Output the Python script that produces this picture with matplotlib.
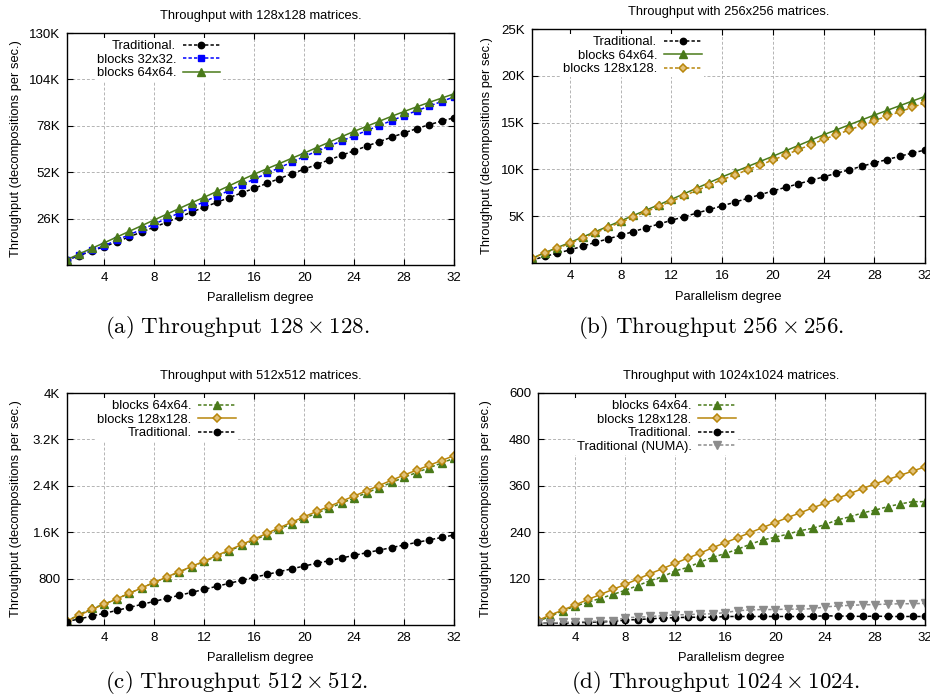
import numpy as np
import matplotlib
matplotlib.use("Agg")
import matplotlib.pyplot as plt
from matplotlib.ticker import FuncFormatter

plt.rcParams["font.family"] = ["Liberation Sans", "DejaVu Sans"]
plt.rcParams["mathtext.fontset"] = "cm"

# parallelism degree 1..32
X = list(range(1, 33))

# (a) 128x128, thousands of decompositions per second
A_TRAD = [2.8, 5.3, 7.9, 10.3, 13.0, 15.8, 18.6, 21.2, 24.0, 26.9, 29.7, 32.4, 35.1, 37.8, 40.4, 43.0,
          45.7, 48.4, 51.1, 53.7, 56.3, 58.9, 61.5, 64.0, 66.6, 69.1, 71.6, 74.0, 76.4, 78.6, 80.6, 82.5]
A_B32 = [2.8, 5.6, 8.2, 10.8, 14.0, 17.0, 20.0, 23.0, 26.1, 29.2, 32.3, 35.5, 38.6, 41.8, 45.0, 48.1,
         51.3, 54.5, 57.6, 60.8, 63.7, 66.6, 69.5, 72.4, 75.3, 78.1, 80.9, 83.7, 86.4, 89.0, 91.6, 94.2]
A_B64 = [3.0, 6.3, 9.4, 12.5, 15.7, 18.9, 22.1, 25.3, 28.5, 31.7, 34.9, 38.0, 41.2, 44.4, 47.7, 50.9,
         53.9, 56.8, 59.8, 62.7, 65.8, 68.8, 71.9, 74.9, 77.7, 80.5, 83.3, 86.0, 88.6, 91.1, 93.5, 95.9]

# (b) 256x256, thousands
B_TRAD = [0.30, 0.70, 1.05, 1.40, 1.80, 2.20, 2.58, 2.96, 3.36, 3.76, 4.16, 4.56, 4.95, 5.33, 5.72, 6.10,
          6.50, 6.90, 7.30, 7.70, 8.08, 8.45, 8.83, 9.20, 9.58, 9.95, 10.33, 10.70, 11.05, 11.40, 11.75, 12.07]
B_B64 = [0.50, 1.10, 1.65, 2.20, 2.78, 3.35, 3.92, 4.50, 5.08, 5.65, 6.22, 6.80, 7.40, 8.00, 8.60, 9.20,
         9.75, 10.30, 10.85, 11.40, 11.98, 12.55, 13.12, 13.70, 14.22, 14.75, 15.28, 15.80, 16.30, 16.80, 17.30, 17.80]
B_B128 = [0.50, 1.05, 1.58, 2.10, 2.66, 3.22, 3.79, 4.35, 4.91, 5.48, 6.04, 6.60, 7.18, 7.75, 8.33, 8.90,
          9.42, 9.95, 10.48, 11.00, 11.55, 12.10, 12.65, 13.20, 13.70, 14.20, 14.70, 15.20, 15.68, 16.15, 16.63, 17.10]

# (c) 512x512
C_B64 = [70, 180, 285, 360, 454, 547, 642, 736, 826, 915, 1005, 1095, 1187, 1280, 1372, 1465,
         1559, 1653, 1746, 1840, 1927, 2015, 2102, 2190, 2279, 2368, 2457, 2546, 2628, 2710, 2792, 2874]
C_B128 = [70, 170, 270, 357, 452, 547, 641, 736, 828, 920, 1011, 1103, 1198, 1293, 1388, 1483,
          1579, 1676, 1772, 1868, 1957, 2046, 2135, 2224, 2315, 2405, 2496, 2586, 2669, 2752, 2836, 2919]
C_TRAD = [60, 105, 155, 201, 252, 304, 356, 408, 460, 512, 563, 615, 667, 719, 771, 822,
          871, 920, 968, 1017, 1063, 1109, 1155, 1201, 1246, 1290, 1335, 1379, 1423, 1466, 1509, 1552]

# (d) 1024x1024
D_B64 = [9, 23, 37, 49, 59, 69, 79, 90, 102, 115, 125, 140, 149, 163, 175, 185,
         196, 209, 220, 227, 235, 244, 250, 260, 272, 280, 290, 297, 306, 313, 319, 319]
D_B128 = [12, 26, 39, 52, 66, 79, 92, 105, 119, 133, 146, 160, 173, 186, 200, 213,
          226, 239, 252, 265, 278, 290, 303, 315, 328, 340, 353, 365, 376, 387, 398, 409]
D_TRAD = [5, 5, 5, 6, 7, 8, 9, 13, 14, 16, 18, 19, 20, 20, 20, 22,
          22, 22, 22, 22, 22, 22, 22, 24, 23, 23, 22, 23, 22, 22, 22, 22]
D_NUMA = [5, 5, 7, 8, 9, 10, 11, 19, 20, 22, 24, 26, 27, 28, 29, 32,
          37, 39, 40, 40, 41, 41, 42, 47, 49, 51, 52, 53, 54, 55, 55, 56]

GREEN = "#4a7a1a"
GOLD = "#b8860b"
GOLD_FILL = "#e3c27a"
BLUE = "#0000ff"
GRAY = "#8c8c8c"
DASH = (0, (2.2, 1.4))
LW = 1.1

TRAD_STYLE = dict(color="black", ls=DASH, marker="o", ms=4.6, mfc="black", mec="black")
B32_STYLE = dict(color=BLUE, ls=DASH, marker="s", ms=4.4, mfc=BLUE, mec=BLUE)
B64_SOLID = dict(color=GREEN, ls="-", marker="^", ms=5.2, mfc=GREEN, mec=GREEN)
B64_DASH = dict(color=GREEN, ls=DASH, marker="^", ms=5.2, mfc=GREEN, mec=GREEN)
B128_DASH = dict(color=GOLD, ls=DASH, marker="D", ms=3.8, mfc=GOLD_FILL, mec=GOLD, mew=1.1)
B128_SOLID = dict(color=GOLD, ls="-", marker="D", ms=3.8, mfc=GOLD_FILL, mec=GOLD, mew=1.1)
NUMA_STYLE = dict(color=GRAY, ls=DASH, marker="v", ms=5.2, mfc=GRAY, mec=GRAY)

FS = 9.3

W, H = 930, 698
fig = plt.figure(figsize=(W / 100, H / 100), dpi=100)


def px_axes(left, top, right, bottom):
    return fig.add_axes([left / W, 1 - bottom / H, (right - left) / W, (bottom - top) / H])


def k_fmt(v, pos):
    if v >= 1000:
        s = f"{v / 1000:.1f}".rstrip("0").rstrip(".")
        return s + "K"
    return f"{v:g}"


def setup(ax, title, ymax, yticks, fmt, ylab_x, leg_x):
    ax.set_xlim(1, 32)
    ax.set_ylim(0, ymax)
    ax.set_xticks([4, 8, 12, 16, 20, 24, 28, 32])
    ax.set_yticks(yticks)
    ax.yaxis.set_major_formatter(FuncFormatter(fmt))
    ax.grid(True, color="#b4b4b4", ls=(0, (3, 2)), lw=0.7)
    ax.set_axisbelow(True)
    ax.tick_params(direction="in", length=4, width=0.8, top=True, right=True,
                   labelsize=9.5, pad=5)
    for sp in ax.spines.values():
        sp.set_linewidth(1.0)
    ax.set_title(title, fontsize=FS, pad=10)
    ax.set_xlabel("Parallelism degree", fontsize=FS)
    ax.set_ylabel("Throughput (decompositions per sec.)", fontsize=FS)
    ax.yaxis.set_label_coords(ylab_x, 0.5)
    ax.xaxis.set_label_coords(0.5, -0.118)
    leg = ax.legend(loc="upper right", bbox_to_anchor=(leg_x, 1.0), markerfirst=False,
                    fontsize=9.4, frameon=True, framealpha=1, edgecolor="none",
                    fancybox=False, borderpad=0.15, borderaxespad=0.4,
                    handlelength=2.9, handletextpad=0.5, labelspacing=0.1)
    leg.get_frame().set_linewidth(0)


# (a)
ax = px_axes(67, 33, 454, 265)
ax.plot(X, np.array(A_TRAD) * 1000, label="Traditional.", lw=LW, **TRAD_STYLE)
ax.plot(X, np.array(A_B32) * 1000, label="blocks 32x32.", lw=LW, **B32_STYLE)
ax.plot(X, np.array(A_B64) * 1000, label="blocks 64x64.", lw=LW, **B64_SOLID)
setup(ax, "Throughput with 128x128 matrices.", 130000,
      [26000, 52000, 78000, 104000, 130000], k_fmt, -0.116, 0.415)

# (b)
ax = px_axes(532, 29, 925, 263)
ax.plot(X, np.array(B_TRAD) * 1000, label="Traditional.", lw=LW, **TRAD_STYLE)
ax.plot(X, np.array(B_B64) * 1000, label="blocks 64x64.", lw=LW, **B64_SOLID)
ax.plot(X, np.array(B_B128) * 1000, label="blocks 128x128.", lw=LW, **B128_DASH)
setup(ax, "Throughput with 256x256 matrices.", 25000,
      [5000, 10000, 15000, 20000, 25000], k_fmt, -0.099, 0.45)

# (c)
ax = px_axes(67, 393, 454, 625)
ax.plot(X, C_B64, label="blocks 64x64.", lw=LW, **B64_DASH)
ax.plot(X, C_B128, label="blocks 128x128.", lw=LW, **B128_SOLID)
ax.plot(X, C_TRAD, label="Traditional.", lw=LW, **TRAD_STYLE)
setup(ax, "Throughput with 512x512 matrices.", 4000,
      [800, 1600, 2400, 3200, 4000], k_fmt, -0.116, 0.455)

# (d)
ax = px_axes(538, 393, 925, 625)
ax.plot(X, D_B64, label="blocks 64x64.", lw=LW, **B64_DASH)
ax.plot(X, D_B128, label="blocks 128x128.", lw=LW, **B128_SOLID)
ax.plot(X, D_TRAD, label="Traditional.", lw=LW, **TRAD_STYLE)
ax.plot(X, D_NUMA, label="Traditional (NUMA).", lw=LW, **NUMA_STYLE)
setup(ax, "Throughput with 1024x1024 matrices.", 600,
      [120, 240, 360, 480, 600], k_fmt, -0.119, 0.53)

# captions
CAP = 16.5
fig.text(237 / W, 1 - 327 / H, r"$\mathrm{(a)\ Throughput\ 128\times128.}$", ha="center", va="center", fontsize=CAP)
fig.text(711 / W, 1 - 327 / H, r"$\mathrm{(b)\ Throughput\ 256\times256.}$", ha="center", va="center", fontsize=CAP)
fig.text(237 / W, 1 - 682 / H, r"$\mathrm{(c)\ Throughput\ 512\times512.}$", ha="center", va="center", fontsize=CAP)
fig.text(715 / W, 1 - 682 / H, r"$\mathrm{(d)\ Throughput\ 1024\times1024.}$", ha="center", va="center", fontsize=CAP)

fig.savefig("out.png", dpi=100)
